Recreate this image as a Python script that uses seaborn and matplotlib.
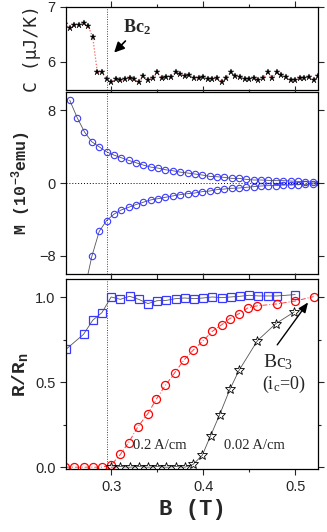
import matplotlib
matplotlib.use("Agg")
import matplotlib.pyplot as plt
import seaborn as sns
from matplotlib.ticker import MultipleLocator, FormatStrFormatter

# --- heat capacity C (uJ/K) vs B (T) ---
c_field = [0.250, 0.255, 0.260, 0.265, 0.270, 0.275, 0.280, 0.285, 0.290, 0.295,
           0.300, 0.305, 0.310, 0.315, 0.320, 0.325, 0.330, 0.335, 0.340, 0.345,
           0.350, 0.355, 0.360, 0.365, 0.370, 0.375, 0.380, 0.385, 0.390, 0.395,
           0.400, 0.405, 0.410, 0.415, 0.420, 0.425, 0.430, 0.435, 0.440, 0.445,
           0.450, 0.455, 0.460, 0.465, 0.470, 0.475, 0.480, 0.485, 0.490, 0.495,
           0.500, 0.505, 0.510, 0.515, 0.520, 0.525]
c_value = [6.69, 6.61, 6.67, 6.67, 6.70, 6.65, 6.45, 5.81, 5.81, 5.69,
           5.64, 5.68, 5.67, 5.68, 5.71, 5.68, 5.63, 5.74, 5.67, 5.70,
           5.81, 5.70, 5.73, 5.73, 5.81, 5.78, 5.74, 5.76, 5.71, 5.71,
           5.73, 5.69, 5.69, 5.70, 5.64, 5.71, 5.82, 5.74, 5.73, 5.69,
           5.69, 5.71, 5.67, 5.70, 5.81, 5.70, 5.81, 5.76, 5.72, 5.67,
           5.67, 5.70, 5.70, 5.73, 5.67, 5.74]

# --- magnetisation M (1e-3 emu), two sweep branches ---
m_up_field = [0.255, 0.263, 0.271, 0.279, 0.287, 0.295, 0.303, 0.311, 0.319, 0.327,
              0.335, 0.343, 0.351, 0.359, 0.367, 0.375, 0.383, 0.391, 0.399, 0.407,
              0.415, 0.423, 0.431, 0.439, 0.447, 0.455, 0.463, 0.471, 0.479, 0.487,
              0.495, 0.503, 0.511, 0.519, 0.527]
m_up = [9.1, 7.2, 5.62, 4.53, 3.98, 3.43, 3.07, 2.78, 2.49, 2.23,
        1.97, 1.75, 1.64, 1.46, 1.35, 1.20, 1.10, 0.99, 0.88, 0.73,
        0.69, 0.62, 0.51, 0.51, 0.40, 0.33, 0.33, 0.29, 0.26, 0.26,
        0.22, 0.18, 0.15, 0.11, 0.02]
m_down_field = [0.271, 0.279, 0.287, 0.295, 0.303, 0.311, 0.319, 0.327, 0.335, 0.343,
                0.351, 0.359, 0.367, 0.375, 0.383, 0.391, 0.399, 0.407, 0.415, 0.423,
                0.431, 0.439, 0.447, 0.455, 0.463, 0.471, 0.479, 0.487, 0.495, 0.503,
                0.511, 0.519, 0.527]
m_down = [-11.8, -8.07, -5.33, -4.13, -3.43, -2.96, -2.67, -2.37, -2.11, -1.86,
          -1.72, -1.57, -1.42, -1.28, -1.17, -1.10, -0.95, -0.88, -0.73, -0.66,
          -0.58, -0.55, -0.47, -0.40, -0.33, -0.29, -0.29, -0.22, -0.22, -0.18,
          -0.15, -0.11, -0.04]

# --- resistance R/Rn ---
sq_field = [0.251, 0.270, 0.280, 0.290, 0.300, 0.310, 0.320, 0.330, 0.340, 0.350,
            0.360, 0.370, 0.380, 0.390, 0.400, 0.410, 0.420, 0.430, 0.440, 0.450,
            0.460, 0.470, 0.480, 0.500]
sq_value = [0.694, 0.782, 0.865, 0.910, 1.002, 0.988, 1.006, 0.988, 0.963, 0.980,
            0.982, 0.992, 0.996, 0.992, 0.996, 1.002, 0.998, 1.002, 1.006, 1.012,
            1.008, 1.008, 1.008, 1.016]

i02_field = [0.250, 0.260, 0.270, 0.280, 0.290, 0.300, 0.310, 0.319, 0.329, 0.340,
             0.349, 0.359, 0.369, 0.379, 0.389, 0.400, 0.410, 0.420, 0.429, 0.439,
             0.449, 0.459, 0.480, 0.500, 0.520]
i02_value = [0.0, 0.0, 0.0, 0.0, 0.0, 0.012, 0.075, 0.145, 0.237, 0.316,
             0.400, 0.482, 0.555, 0.630, 0.688, 0.745, 0.800, 0.838, 0.875, 0.904,
             0.939, 0.950, 0.961, 0.978, 1.004]

i002_field = [0.300, 0.310, 0.320, 0.330, 0.340, 0.350, 0.360, 0.370, 0.380, 0.389,
              0.399, 0.408, 0.418, 0.429, 0.439, 0.459, 0.479, 0.499]
i002_value = [0.0, 0.004, 0.0, 0.004, 0.0, 0.004, 0.0, 0.004, 0.0, 0.016,
              0.07, 0.184, 0.31, 0.458, 0.57, 0.745, 0.845, 0.914]

bc2_field = 0.296

sns.set_style("ticks")
plt.rcParams["font.family"] = ["Liberation Sans", "DejaVu Sans"]
plt.rcParams["mathtext.default"] = "regular"
plt.rcParams["axes.linewidth"] = 0.9

fig = plt.figure(figsize=(3.27, 5.32), dpi=100)
L, W = 0.202, 0.771
ax_c = fig.add_axes([L, 0.831, W, 0.156])
ax_m = fig.add_axes([L, 0.485, W, 0.342], sharex=ax_c)
ax_r = fig.add_axes([L, 0.118, W, 0.357], sharex=ax_c)

blue = "#3a3aff"
line_grey = "#555555"

# heat capacity
sns.lineplot(x=c_field, y=c_value, ax=ax_c, color="#ff6060", linestyle=(0, (1, 1.5)),
             linewidth=0.9, marker="*", markersize=4.5, markerfacecolor="black",
             markeredgecolor="black", markeredgewidth=0.3, sort=False)
ax_c.set_ylim(5.49, 7.0)
ax_c.set_yticks([6, 7])
ax_c.set_ylabel("C (μJ/K)", family="DejaVu Sans Mono", fontsize=13, labelpad=5)
ax_c.text(0.3125, 6.64, r"Bc$_2$", fontsize=13, fontweight="bold",
          family="Liberation Serif", va="center")
ax_c.annotate("", xy=(0.3033, 6.17), xytext=(0.3155, 6.38),
              arrowprops=dict(arrowstyle="-|>,head_width=0.3,head_length=0.6",
                              color="black", lw=1.2, shrinkA=0, shrinkB=0))

# magnetisation
for fx, fy in [(m_up_field, m_up), (m_down_field, m_down)]:
    sns.lineplot(x=fx, y=fy, ax=ax_m, color=line_grey, linewidth=0.6,
                 marker="o", markersize=4.6, markerfacecolor="none",
                 markeredgecolor=blue, markeredgewidth=0.8, sort=False)
ax_m.axhline(0, color="black", linestyle=(0, (1, 2)), linewidth=0.7)
ax_m.set_ylim(-10, 10)
ax_m.set_yticks([-8, 0, 8])
ax_m.set_ylabel(r"M (10$^{-3}$emu)", family="Liberation Mono", fontweight="bold",
                fontsize=12, labelpad=4)

# resistance
sns.lineplot(x=sq_field, y=sq_value, ax=ax_r, color=line_grey, linewidth=0.6,
             marker="s", markersize=5.2, markerfacecolor="none",
             markeredgecolor=blue, markeredgewidth=0.9, sort=False)
sns.lineplot(x=i02_field, y=i02_value, ax=ax_r, color="#ff4040", linewidth=0.7,
             linestyle=(0, (5, 2, 1, 2)), marker="o", markersize=5.8,
             markerfacecolor="none", markeredgecolor="red", markeredgewidth=0.9, sort=False)
sns.lineplot(x=i002_field, y=i002_value, ax=ax_r, color=line_grey, linewidth=0.6,
             marker="*", markersize=7, markerfacecolor="none",
             markeredgecolor="black", markeredgewidth=0.6, sort=False)
ax_r.set_ylim(-0.012, 1.106)
ax_r.set_yticks([0.0, 0.5, 1.0])
ax_r.yaxis.set_major_formatter(FormatStrFormatter("%.1f"))
ax_r.yaxis.set_minor_locator(MultipleLocator(0.25))
ax_r.set_ylabel(r"R/R$_n$", family="Liberation Mono", fontweight="bold",
                fontsize=14, labelpad=4)
ax_r.set_xlabel("B (T)", family="Liberation Mono", fontweight="bold", fontsize=16,
                labelpad=4)
ax_r.text(0.3235, 0.13, "0.2 A/cm", family="Liberation Serif", fontsize=10.5,
          va="center")
ax_r.text(0.4225, 0.13, "0.02 A/cm", family="Liberation Serif", fontsize=10.5,
          va="center")
ax_r.text(0.465, 0.62, r"Bc$_3$", family="Liberation Serif", fontsize=14, va="center")
ax_r.text(0.464, 0.49, r"(i$_c$=0)", family="Liberation Serif", fontsize=13,
          va="center")
ax_r.annotate("", xy=(0.514, 0.97), xytext=(0.4805, 0.72),
              arrowprops=dict(arrowstyle="-|>,head_width=0.25,head_length=0.6",
                              color="black", lw=1.0, shrinkA=0, shrinkB=0))

for ax in (ax_c, ax_m, ax_r):
    ax.axvline(bc2_field, color="#444444", linestyle=(0, (1, 1.5)), linewidth=0.7)
    ax.set_xlim(0.251, 0.525)
    ax.xaxis.set_major_locator(MultipleLocator(0.1))
    ax.xaxis.set_minor_locator(MultipleLocator(0.05))
    ax.tick_params(axis="both", which="both", direction="out", labelsize=10.5,
                   top=True, right=True, width=0.8)
    ax.tick_params(which="major", length=4)
    ax.tick_params(which="minor", length=2.5)
    ax.tick_params(axis="x", which="both", top=True, bottom=True)
    for s in ax.spines.values():
        s.set_visible(True)
        s.set_color("black")
ax_r.xaxis.set_major_formatter(FormatStrFormatter("%.1f"))
ax_c.tick_params(axis="x", labelbottom=False)
ax_m.tick_params(axis="x", labelbottom=False)

fig.savefig("out.png", dpi=100)
